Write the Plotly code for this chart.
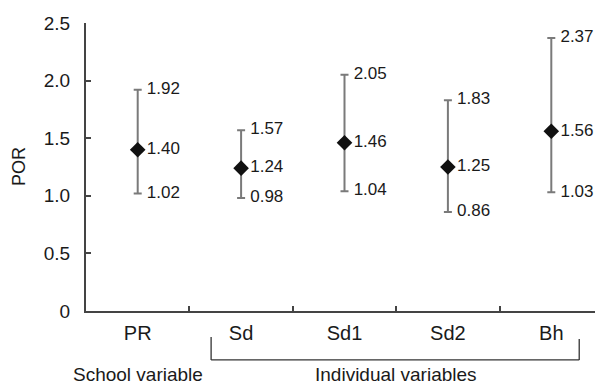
import plotly.graph_objects as go

categories = ["PR", "Sd", "Sd1", "Sd2", "Bh"]
por = [1.40, 1.24, 1.46, 1.25, 1.56]
upper = [1.92, 1.57, 2.05, 1.83, 2.37]
lower = [1.02, 0.98, 1.04, 0.86, 1.03]
y_ticks = [0, 0.5, 1.0, 1.5, 2.0, 2.5]
y_ticktext = ["0", "0.5", "1.0", "1.5", "2.0", "2.5"]
groups = ["School variable", "Individual variables"]

xs = list(range(len(categories)))
FONT = "Liberation Sans, Arial, sans-serif"
TXT = "#1a1a1a"

fig = go.Figure()
fig.add_trace(go.Scatter(
    x=xs, y=por, mode="markers",
    marker=dict(symbol="diamond", size=12, color="#111111"),
    error_y=dict(type="data", symmetric=False,
                 array=[u - v for u, v in zip(upper, por)],
                 arrayminus=[v - l for v, l in zip(por, lower)],
                 color="#7a7a7a", thickness=2, width=4),
    cliponaxis=False, showlegend=False))
for vals in (upper, por, lower):
    fig.add_trace(go.Scatter(
        x=xs, y=vals, mode="markers+text",
        marker=dict(size=13, color="rgba(0,0,0,0)"),
        text=[f"{v:.2f}" for v in vals], textposition="middle right",
        textfont=dict(family=FONT, size=17, color=TXT),
        cliponaxis=False, showlegend=False, hoverinfo="skip"))

# brackets below the axis
line = dict(color="#333333", width=1.3)
fig.add_shape(type="line", xref="x", yref="paper", x0=0.71, x1=0.71, y0=-0.09, y1=-0.17, line=line)
fig.add_shape(type="line", xref="x", yref="paper", x0=0.71, x1=4.27, y0=-0.17, y1=-0.17, line=line)
fig.add_shape(type="line", xref="x", yref="paper", x0=4.27, x1=4.27, y0=-0.097, y1=-0.17, line=line)
fig.add_annotation(x=0, y=-0.222, xref="x", yref="paper", text=groups[0], yanchor="middle",
                   showarrow=False, font=dict(family=FONT, size=19, color=TXT))
fig.add_annotation(x=2.5, y=-0.222, xref="x", yref="paper", text=groups[1], yanchor="middle",
                   showarrow=False, font=dict(family=FONT, size=19, color=TXT))
fig.add_annotation(x=0, y=0.5, xref="paper", yref="paper", text="POR", textangle=-90,
                   xanchor="center", yanchor="middle", xshift=-67,
                   showarrow=False, font=dict(family=FONT, size=18, color=TXT))

# page body has an 8px margin; compensate so plot area lands at x=86..603, y=23..311
fig.update_layout(
    width=595, height=378,
    margin=dict(l=78, r=0, t=15, b=75),
    paper_bgcolor="white", plot_bgcolor="white",
    font=dict(family=FONT, size=17, color=TXT),
    xaxis=dict(range=[-0.5, 4.5], tickmode="array", tickvals=xs, ticktext=categories,
               ticks="", showgrid=False, zeroline=False, automargin=False,
               showline=True, linecolor="#444444", linewidth=2,
               tickfont=dict(family=FONT, size=20, color=TXT),
               ticklabelstandoff=3,
               minor=dict(tickmode="array", tickvals=[0.5, 1.5, 2.5, 3.5],
                          ticks="inside", ticklen=5, tickwidth=1.5, tickcolor="#444444",
                          showgrid=False)),
    yaxis=dict(range=[0, 2.5], tickmode="array", tickvals=y_ticks, ticktext=y_ticktext,
               ticks="inside", ticklen=5, tickwidth=1.5, tickcolor="#444444",
               showgrid=False, zeroline=False, automargin=False,
               showline=True, linecolor="#444444", linewidth=2,
               tickfont=dict(family=FONT, size=19, color=TXT),
               ticklabelstandoff=10),
)
fig.write_html("out.html")
